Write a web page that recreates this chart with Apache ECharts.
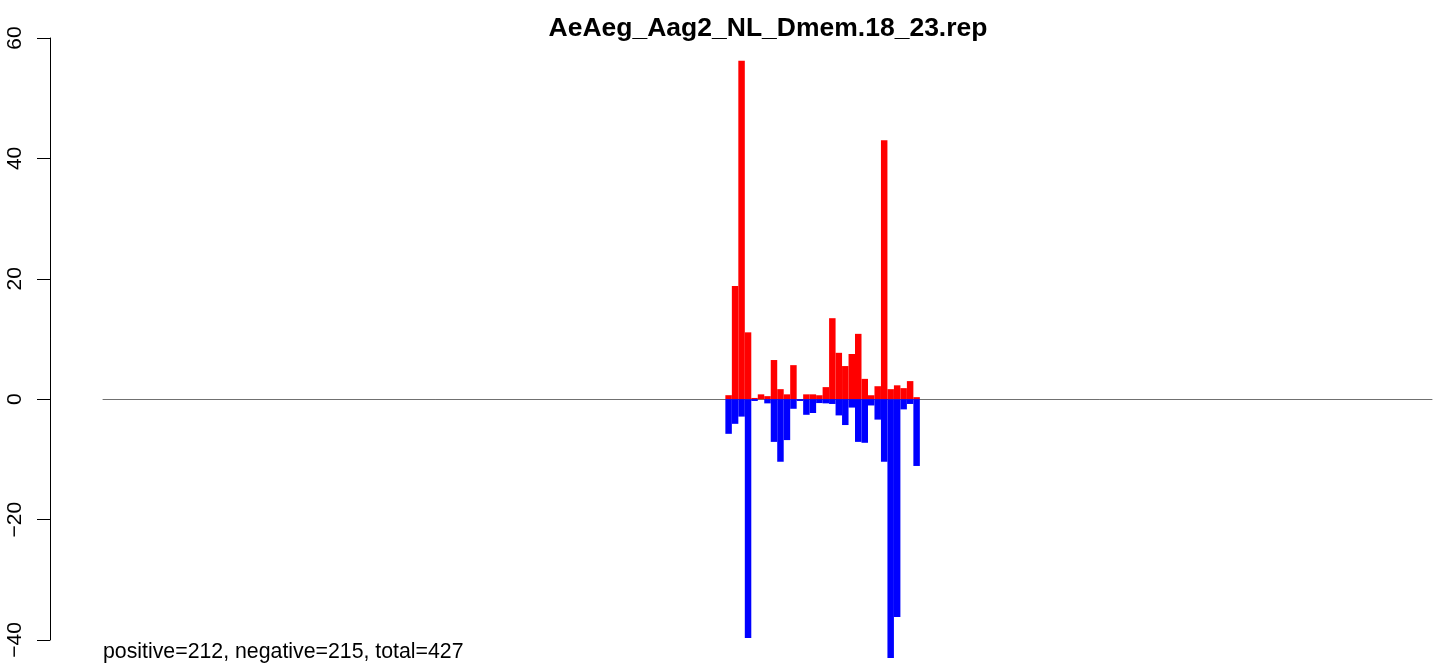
<!DOCTYPE html>
<html>
<head>
<meta charset="utf-8">
<script src="https://cdn.jsdelivr.net/npm/echarts@6/dist/echarts.min.js"></script>
<style>
  html, body { margin: 0; padding: 0; background: #fff; }
  #chart { width: 1433px; height: 664px; }
</style>
</head>
<body>
<div id="chart"></div>
<script>
// 205 positions on the x axis, reads only fall in positions 97..126
const binCount = 205
const firstBin = 97

// sense strand (red, up) and antisense strand (blue, down), one value per position
const posValues = [0.66, 18.8, 56.2, 11.1, 0.2, 0.8, 0.5, 6.5, 1.66, 0.8,
  5.65, 0, 0.8, 0.8, 0.65, 2.0, 13.45, 7.7, 5.5, 7.5,
  10.85, 3.37, 0.65, 2.15, 43.0, 1.66, 2.3, 1.83, 3.0, 0.33]
const negValues = [-5.76, -4.1, -2.9, -39.7, -0.3, 0, -0.7, -7.1, -10.4, -6.8,
  -1.6, -0.3, -2.6, -2.3, -0.65, -0.7, -0.8, -2.7, -4.3, -1.4,
  -7.1, -7.25, -1.05, -3.4, -10.4, -43.0, -36.2, -1.7, -0.8, -11.1]

const yTicks = [-40, -20, 0, 20, 40, 60]

const chartTitle = 'AeAeg_Aag2_NL_Dmem.18_23.rep'
const summaryText = 'positive=212, negative=215, total=427'

// x轴：每个位置一个类目
const binLabels = []
for (let i = 1; i <= binCount; i++) binLabels.push(String(i))

// pad the values out to the whole axis
function padSeries (vals) {
  return binLabels.map((b, i) => {
    const k = i - (firstBin - 1)
    return (k >= 0 && k < vals.length) ? vals[k] : '-'
  })
}

const chart = echarts.init(document.getElementById('chart'))

const option = {
  animation: false,
  backgroundColor: '#ffffff',
  textStyle: { fontFamily: 'Liberation Sans' },
  title: [
    {
      text: chartTitle,
      left: 768,
      top: 15,
      padding: 0,
      textAlign: 'center',
      textStyle: { fontSize: 26.5, fontWeight: 'bold', color: '#000', fontFamily: 'Liberation Sans' }
    },
    {
      text: summaryText,
      left: 103,
      top: 642,
      padding: 0,
      textStyle: { fontSize: 21.3, fontWeight: 'normal', color: '#000', fontFamily: 'Liberation Sans' }
    }
  ],
  // grid 0 holds the bars (plot area runs a bit past -40, like R's usr range)
  // grid 1 only carries the drawn y axis from -40 to 60
  grid: [
    { left: 103, right: 1, top: 38, bottom: 0 },
    { left: 103, right: 1, top: 38, bottom: 24 }
  ],
  xAxis: [
    {
      type: 'category',
      gridIndex: 0,
      data: binLabels,
      axisLine: { show: true, onZero: true, lineStyle: { color: '#707070', width: 1 } },
      axisTick: { show: false },
      axisLabel: { show: false },
      splitLine: { show: false }
    },
    { type: 'category', gridIndex: 1, data: binLabels, show: false }
  ],
  yAxis: [
    {
      type: 'value',
      gridIndex: 0,
      min: -44,
      max: yTicks[yTicks.length - 1],
      show: false,
      splitLine: { show: false }
    },
    {
      type: 'value',
      gridIndex: 1,
      min: yTicks[0],
      max: yTicks[yTicks.length - 1],
      interval: 20,
      offset: 53,
      axisLine: { show: true, onZero: false, lineStyle: { color: '#000', width: 1 } },
      axisTick: { show: true, length: 13, lineStyle: { color: '#000', width: 1 } },
      axisLabel: {
        rotate: 90,
        margin: 24,
        fontSize: 21,
        color: '#000',
        fontFamily: 'Liberation Sans',
        formatter: v => String(v).replace('-', '\u2212')
      },
      splitLine: { show: false }
    }
  ],
  series: [
    {
      name: 'positive',
      type: 'bar',
      xAxisIndex: 0,
      yAxisIndex: 0,
      data: padSeries(posValues),
      barWidth: '100%',
      barGap: '-100%',
      barCategoryGap: 0,
      itemStyle: { color: '#ff0000' }
    },
    {
      name: 'negative',
      type: 'bar',
      xAxisIndex: 0,
      yAxisIndex: 0,
      data: padSeries(negValues),
      barWidth: '100%',
      barGap: '-100%',
      itemStyle: { color: '#0000ff' }
    }
  ]
}

chart.setOption(option)
</script>
</body>
</html>
